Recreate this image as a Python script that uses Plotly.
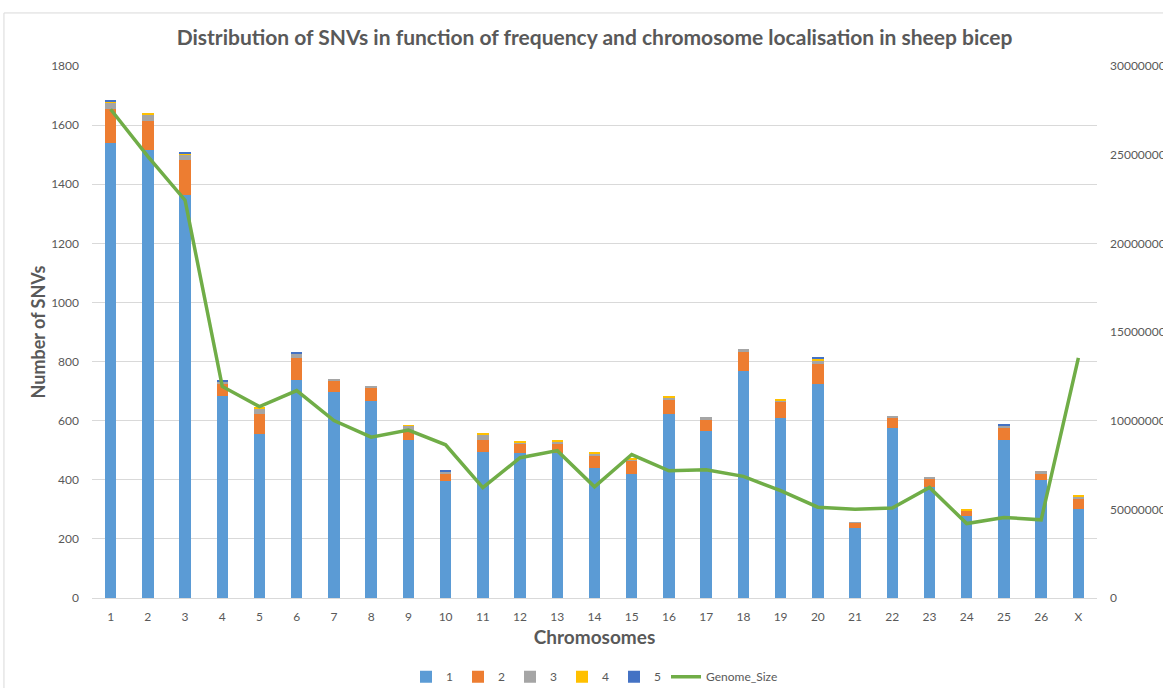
import plotly.graph_objects as go

# Chromosomes on the x axis
chromosomes = [str(i) for i in range(1, 27)] + ["X"]

# SNV counts per chromosome, split by frequency class 1..5
freq_1 = [1539, 1517, 1364, 683, 554, 739, 698, 668, 535, 395, 493, 490, 490, 441,
          419, 622, 564, 769, 608, 724, 237, 574, 377, 276, 535, 399, 301]
freq_2 = [117, 97, 117, 40, 70, 73, 39, 45, 31, 25, 42, 33, 34, 40,
          45, 47, 41, 62, 57, 67, 17, 37, 28, 19, 42, 20, 34]
freq_3 = [21, 21, 20, 9, 16, 14, 5, 4, 16, 7, 17, 4, 6, 7,
          5, 10, 6, 10, 2, 12, 2, 5, 4, 2, 5, 11, 10]
freq_4 = [3, 3, 4, 2, 3, 1, 0, 0, 1, 1, 4, 3, 3, 3,
          2, 4, 0, 0, 3, 7, 0, 0, 0, 4, 1, 0, 4]
freq_5 = [3, 0, 3, 1, 0, 2, 0, 0, 0, 3, 0, 0, 0, 0,
          0, 0, 0, 0, 0, 5, 0, 0, 0, 0, 4, 0, 0]

# Chromosome length (bp), secondary axis
genome_size = [275600000, 249000000, 224300000, 119300000, 107900000, 117000000,
               100100000, 90700000, 94700000, 86400000, 62200000, 79100000,
               83100000, 62700000, 80900000, 71700000, 72300000, 68600000,
               60500000, 51200000, 50100000, 50800000, 62300000, 42000000,
               45400000, 44100000, 135400000]

series = [
    ("1", freq_1, "#5B9BD5"),
    ("2", freq_2, "#ED7D31"),
    ("3", freq_3, "#A5A5A5"),
    ("4", freq_4, "#FFC000"),
    ("5", freq_5, "#4472C4"),
]

FONT = "Lato, 'Open Sans', sans-serif"
GREY = "#595959"

fig = go.Figure()
for name, vals, color in series:
    fig.add_trace(go.Bar(
        x=chromosomes, y=vals, name=name,
        marker=dict(color=color, line=dict(width=0)),
        yaxis="y",
    ))

fig.add_trace(go.Scatter(
    x=chromosomes, y=genome_size, name="Genome_Size",
    mode="lines", line=dict(color="#70AD47", width=3.5),
    yaxis="y2",
))

fig.update_layout(
    width=1163, height=688,
    margin=dict(l=92, r=66, t=66, b=90, autoexpand=False),
    paper_bgcolor="white", plot_bgcolor="white",
    barmode="stack", bargap=0.69,
    font=dict(family=FONT, color=GREY, size=12),
    title=dict(
        text="<b>Distribution of SNVs in function of frequency and chromosome localisation in sheep bicep</b>",
        xref="paper", x=0.5, xanchor="center", y=1 - 38 / 688, yanchor="middle",
        font=dict(size=21, color=GREY, family=FONT),
    ),
    xaxis=dict(
        title=dict(text="<b>Chromosomes</b>", font=dict(size=19, color=GREY), standoff=7),
        showgrid=False, showline=True, linecolor="#D9D9D9", linewidth=1,
        ticks="", ticklabelstandoff=8, tickfont=dict(size=12, color=GREY),
        automargin=False,
    ),
    yaxis=dict(
        title=dict(text="<b>Number of SNVs</b>", font=dict(size=18, color=GREY), standoff=0),
        range=[0, 1800], dtick=200, showgrid=True, gridcolor="#D9D9D9", gridwidth=1,
        zeroline=False, showline=False, ticks="", ticklabelstandoff=12,
        tickfont=dict(size=12, color=GREY), automargin=False,
    ),
    yaxis2=dict(
        overlaying="y", side="right", range=[0, 300000000], dtick=50000000,
        tickformat="d", showgrid=False, zeroline=False, showline=False,
        ticks="", ticklabelstandoff=12, tickfont=dict(size=12, color=GREY),
        automargin=False,
    ),
    legend=dict(
        orientation="h", x=0.5, xanchor="center", y=-0.148, yanchor="middle",
        font=dict(size=12, color=GREY), traceorder="normal",
        itemwidth=30,
    ),
    shapes=[dict(
        type="rect", xref="paper", yref="paper",
        x0=-0.0876, x1=1.2, y0=-0.3, y1=1.0997,
        line=dict(color="#D9D9D9", width=1), fillcolor="rgba(0,0,0,0)", layer="below",
    )],
)

fig.write_html("out.html")
